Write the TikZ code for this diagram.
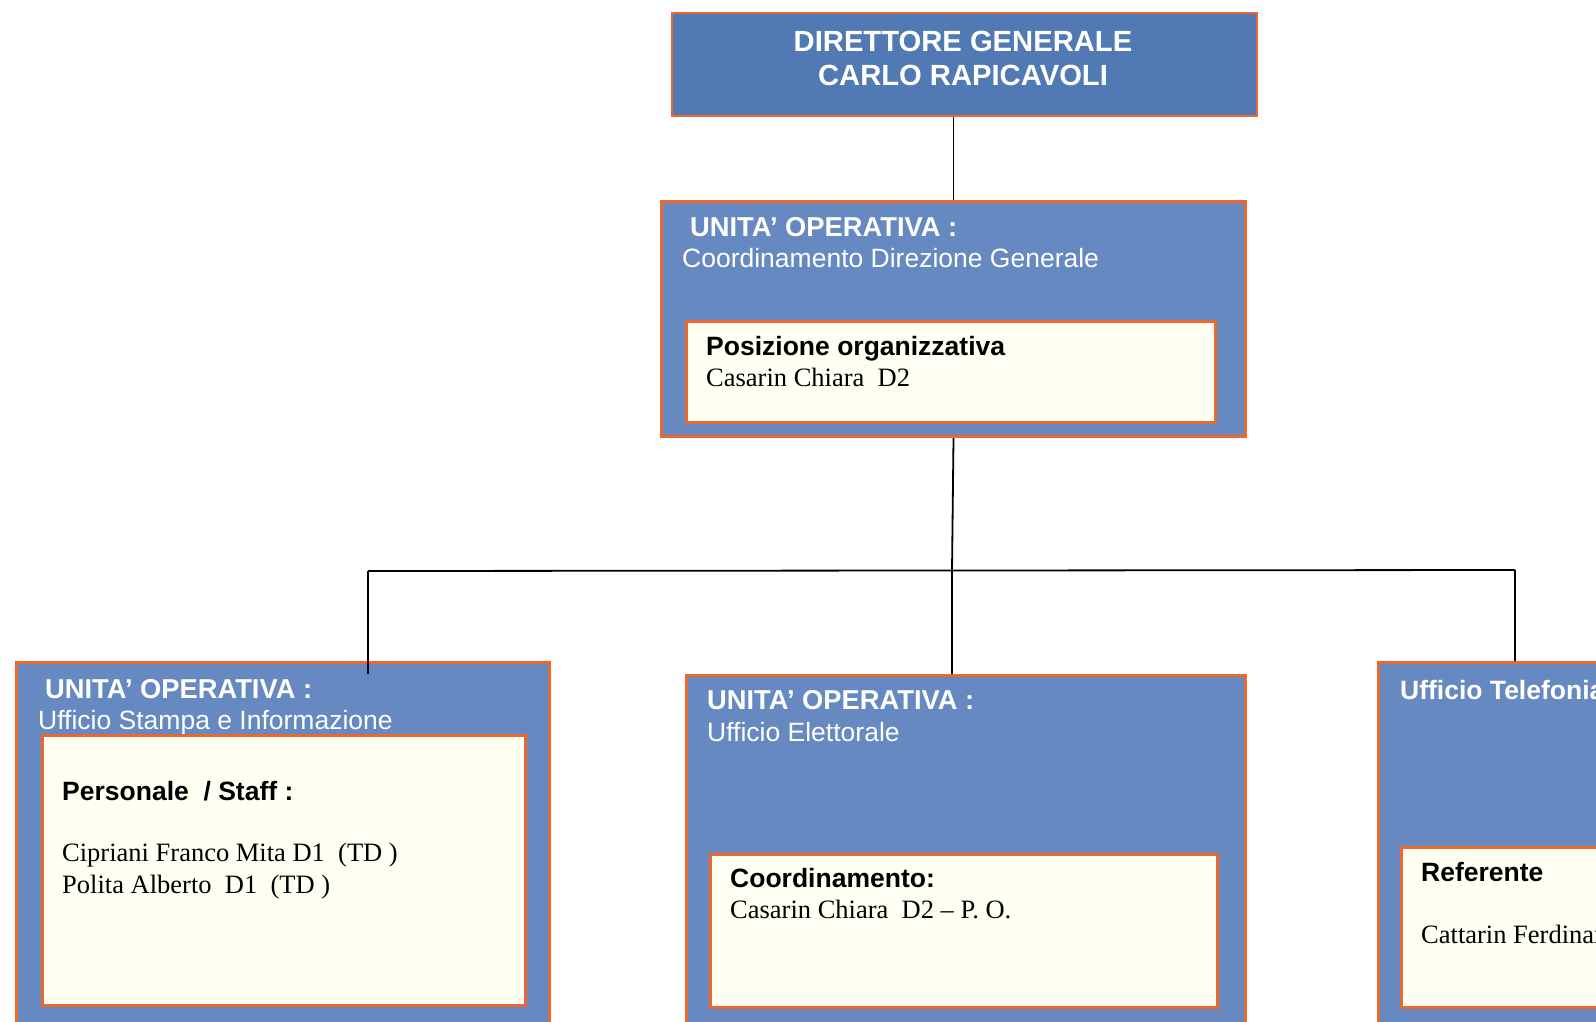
\documentclass[tikz,border=0pt]{standalone}
\usepackage{fontspec}
\setmainfont{Liberation Serif}
\setsansfont{Liberation Sans}
\usepackage{tikz}
\usetikzlibrary{positioning}

\definecolor{topblue}{RGB}{81,121,180}
\definecolor{unitblue}{RGB}{101,137,192}
\definecolor{cream}{RGB}{255,255,242}
\definecolor{edge}{RGB}{236,104,46}

\tikzset{
  unitbox/.style={rectangle, draw=edge, line width=3pt, fill=unitblue, anchor=north west, inner sep=0pt},
  innerbox/.style={rectangle, draw=edge, line width=2.5pt, fill=cream, anchor=north west, inner sep=0pt},
  headtxt/.style={anchor=base west, inner sep=0pt, text=white, font=\sffamily\bfseries\fontsize{27.3}{31}\selectfont},
  subtxt/.style={anchor=base west, inner sep=0pt, text=white, font=\sffamily\fontsize{26.5}{31}\selectfont},
  roletxt/.style={anchor=base west, inner sep=0pt, text=black, font=\sffamily\bfseries\fontsize{26.5}{31}\selectfont},
  nametxt/.style={anchor=base west, inner sep=0pt, text=black, font=\rmfamily\fontsize{26.5}{31}\selectfont},
  link/.style={draw=black, line width=1.8pt}
}

\begin{document}
\begin{tikzpicture}[x=1pt,y=-1pt]
              \useasboundingbox (0,0) rectangle (1596,1021);
              \clip (0,0) rectangle (1596,1021);

              %direttore
              \node[rectangle, draw=edge, line width=1.5pt, fill=topblue, anchor=north west,
                    minimum width=585, minimum height=103] (dg) at (671,12) {};
              \node[align=center, text=white, font=\sffamily\bfseries\fontsize{29.2}{34}\selectfont]
                    (dgtxt) at (963,58) {DIRETTORE GENERALE\\CARLO RAPICAVOLI};

              %coordinamento
              \node[unitbox, minimum width=584, minimum height=235] (uoc) at (660,200) {};
              \node[headtxt] (uoctitle) at (690,236.5) {UNITA’ OPERATIVA :};
              \node[subtxt] (uocsub) at (682,267.5) {Coordinamento Direzione Generale};
              \node[innerbox, minimum width=529, minimum height=101] (poc) at (685,320) {};
              \node[roletxt] (poctitle) at (706,355.5) {Posizione organizzativa};
              \node[nametxt] (pocname) at (706,386) {Casarin Chiara\ \ D2};

              %stampa
              \node[unitbox, minimum width=533, minimum height=420] (usi) at (15,661) {};
              \node[headtxt] (usititle) at (45,698) {UNITA’ OPERATIVA :};
              \node[subtxt] (usisub) at (38,729) {Ufficio Stampa e Informazione};
              \node[innerbox, minimum width=483, minimum height=270] (staff) at (41,734) {};
              \node[roletxt] (stafftitle) at (62,800) {Personale\ \ / Staff :};
              \node[nametxt] (staffa) at (62,861) {Cipriani Franco Mita D1\ \ (TD )};
              \node[nametxt] (staffb) at (62,893) {Polita Alberto\ \ D1\ \ (TD )};

              %elettorale
              \node[unitbox, minimum width=559, minimum height=420] (uel) at (685,674) {};
              \node[headtxt] (ueltitle) at (707,709) {UNITA’ OPERATIVA :};
              \node[subtxt] (uelsub) at (707,741) {Ufficio Elettorale};
              \node[innerbox, minimum width=507, minimum height=153] (coord) at (709,853) {};
              \node[roletxt] (coordtitle) at (730,887) {Coordinamento:};
              \node[nametxt] (coordname) at (730,918) {Casarin Chiara\ \ D2 -- P. O.};

              %telefonia
              \node[unitbox, minimum width=300, minimum height=420] (utel) at (1377,661) {};
              \node[roletxt, text=white] (uteltitle) at (1400,699) {Ufficio Telefonia};
              \node[innerbox, minimum width=260, minimum height=160] (ref) at (1400,846) {};
              \node[roletxt] (reftitle) at (1421,881) {Referente};
              \node[nametxt] (refname) at (1421,943) {Cattarin Ferdinando};

              %links
              \coordinate (bus) at (952,571);
              \coordinate (busL) at (368,571);
              \coordinate (busR) at (1515,570);
              \draw[link] (uoc.north |- dg.south) -- (uoc.north);
              \draw[link] (uoc.south) -- (bus);
              \draw[link] (busL) -- (busR);
              \draw[link] (busL) -- (busL |- uel.north);
              \draw[link] (bus) -- (bus |- uel.north);
              \draw[link] (busR) -- (busR |- utel.north);
            \end{tikzpicture}
\end{document}
